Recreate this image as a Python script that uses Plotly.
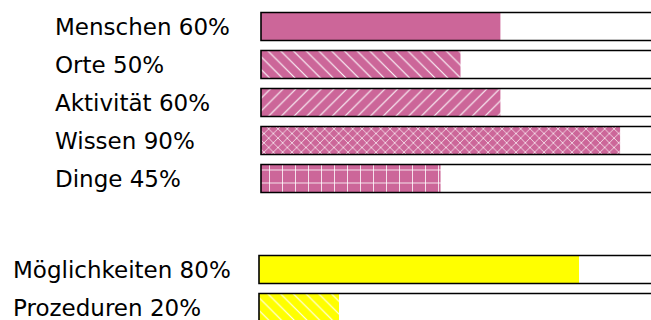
import plotly.graph_objects as go

# Group 1
cats1 = ["Menschen", "Orte", "Aktivität", "Wissen", "Dinge"]
vals1 = [60, 50, 60, 90, 45]
shapes1 = ["", "\\", "/", "x", "+"]
sizes1 = [9, 9, 9, 6.6, 13]
solid1 = [0.15, 0.12, 0.12, 0.2, 0.12]

# Group 2
cats2 = ["Möglichkeiten", "Prozeduren"]
vals2 = [80, 20]
shapes2 = ["", "\\"]
sizes2 = [9, 9]
solid2 = [0.15, 0.12]

full = [100] * 7

PINK = "#CC6699"
YELLOW = "#FFFF00"
FONT = "DejaVu Sans"

W, H = 651, 320
fig = go.Figure()

def add_group(cats, vals, shapes, sizes, solids, color, xa, ya):
    fig.add_trace(go.Bar(
        y=cats, x=vals, orientation="h", width=0.74,
        marker=dict(color=color, line=dict(width=0),
                    pattern=dict(shape=shapes, size=sizes, solidity=solids,
                                 fgcolor="white", bgcolor=color, fillmode="replace")),
        xaxis=xa, yaxis=ya, showlegend=False, hoverinfo="skip"))
    fig.add_trace(go.Bar(
        y=cats, x=full[:len(cats)], orientation="h", width=0.74,
        marker=dict(color="rgba(0,0,0,0)", line=dict(color="black", width=1.6)),
        xaxis=xa, yaxis=ya, showlegend=False, hoverinfo="skip"))

add_group(cats1, vals1, shapes1, sizes1, solid1, PINK, "x", "y")
add_group(cats2, vals2, shapes2, sizes2, solid2, YELLOW, "x2", "y2")

pitch = 38.0
g1_top = 26.5 - pitch / 2
g1_bot = g1_top + pitch * len(cats1)
g2_top = 269.5 - pitch / 2
g2_bottom_row = -0.5 + (H - g2_top) / pitch

left_px = 250
x1_left, x1_scale = 261, 3.99
x2_left, x2_scale = 259, 4.0

axis_common = dict(visible=False, showgrid=False, zeroline=False, fixedrange=True)

fig.update_layout(
    width=W, height=H,
    margin=dict(l=0, r=0, t=0, b=0),
    paper_bgcolor="white", plot_bgcolor="white",
    barmode="overlay",
    xaxis=dict(domain=[left_px / W, 1],
               range=[-(x1_left - left_px) / x1_scale, (W - x1_left) / x1_scale],
               anchor="y", **axis_common),
    yaxis=dict(domain=[1 - g1_bot / H, 1 - g1_top / H],
               range=[len(cats1) - 0.5, -0.5], type="category",
               categoryorder="array", categoryarray=cats1,
               anchor="x", **axis_common),
    xaxis2=dict(domain=[left_px / W, 1],
                range=[-(x2_left - left_px) / x2_scale, (W - x2_left) / x2_scale],
                anchor="y2", **axis_common),
    yaxis2=dict(domain=[0, 1 - g2_top / H],
                range=[g2_bottom_row, -0.5], type="category",
                categoryorder="array", categoryarray=cats2,
                anchor="x2", **axis_common),
)

for c, v in zip(cats1, vals1):
    fig.add_annotation(text=f"{c} {v}%", x=53 / W, xref="paper", xanchor="left",
                       y=c, yref="y", yanchor="middle", showarrow=False,
                       font=dict(family=FONT, size=23, color="black"))
for c, v in zip(cats2, vals2):
    fig.add_annotation(text=f"{c} {v}%", x=11 / W, xref="paper", xanchor="left",
                       y=c, yref="y2", yanchor="middle", showarrow=False,
                       font=dict(family=FONT, size=23, color="black"))

fig.write_html("out.html", config={"displayModeBar": False})
